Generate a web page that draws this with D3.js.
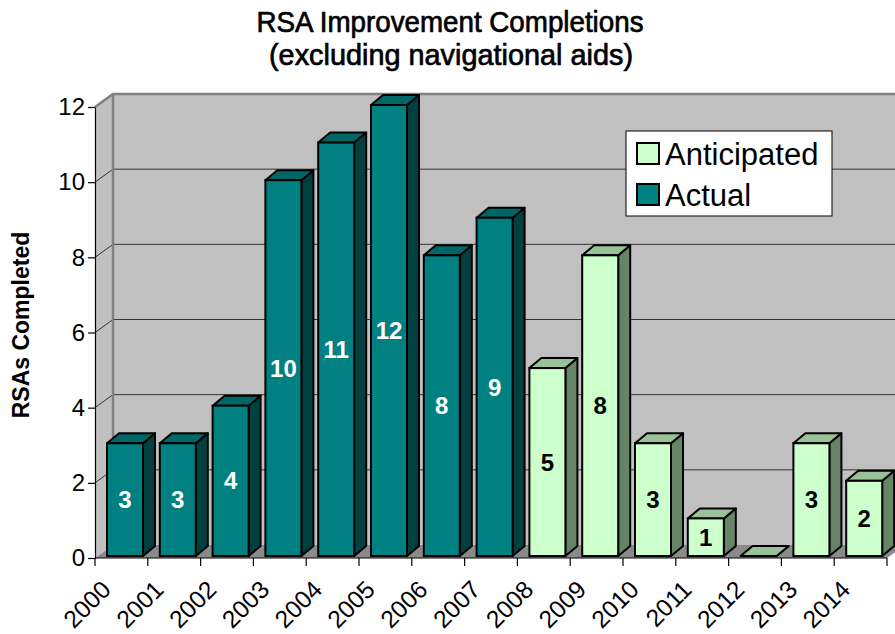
<!DOCTYPE html>
<html>
<head>
<meta charset="utf-8">
<script src="https://cdn.jsdelivr.net/npm/d3@7"></script>
<style>
  body { margin: 0; background: #fff; }
  text { font-family: Arial, "Liberation Sans", sans-serif; }
</style>
</head>
<body>
<div id="chart"></div>
<script>
// Data
var years = ["2000","2001","2002","2003","2004","2005","2006","2007",
             "2008","2009","2010","2011","2012","2013","2014"];
var actualYears = ["2000","2001","2002","2003","2004","2005","2006","2007"];
var actualValues = [3, 3, 4, 10, 11, 12, 8, 9];
var anticipatedYears = ["2008","2009","2010","2011","2012","2013","2014"];
var anticipatedValues = [5, 8, 3, 1, 0, 3, 2];
var yTicks = [0, 2, 4, 6, 8, 10, 12];

var width = 895, height = 634;

// Scales
var x = d3.scaleBand().domain(years).range([95, 887]).padding(0);
var y = d3.scaleLinear().domain([0, 12]).range([558, 107]);

// 3D depth of the plot (back wall offset) and of the bars
var wallDx = 18, wallDy = -13;
var barDx = 12, barDy = -10;
var barOffX = 12, barOffY = -2, barW = 36;

var styles = {
  actual:      { front: "#008080", side: "#004040", top: "#006666", label: "#fff" },
  anticipated: { front: "#ccffcc", side: "#668566", top: "#99c299", label: "#000" }
};

var bars = actualYears.map(function(d, i) { return { year: d, value: actualValues[i], type: "actual" }; })
  .concat(anticipatedYears.map(function(d, i) { return { year: d, value: anticipatedValues[i], type: "anticipated" }; }));

var svg = d3.select("#chart").append("svg")
    .attr("width", width)
    .attr("height", height);

// Title (squeezed to the reference width, slightly heavier than regular)
var titleLines = [
  { text: "RSA Improvement Completions", x: 450, y: 32, len: 387 },
  { text: "(excluding navigational aids)", x: 451, y: 65, len: 364 }
];
svg.selectAll("text.title").data(titleLines).enter().append("text")
    .attr("class", "title")
    .attr("x", function(d) { return d.x; })
    .attr("y", function(d) { return d.y; })
    .attr("text-anchor", "middle")
    .attr("textLength", function(d) { return d.len; })
    .attr("lengthAdjust", "spacingAndGlyphs")
    .style("font-size", "29.5px")
    .style("stroke", "#000")
    .style("stroke-width", 0.7)
    .text(function(d) { return d.text; });

// Y axis title
svg.append("text")
    .attr("transform", "translate(29,325) rotate(-90)")
    .attr("text-anchor", "middle")
    .style("font-size", "23px")
    .style("font-weight", "bold")
    .text("RSAs Completed");

var x0 = x.range()[0], x1 = x.range()[1];
var plot = svg.append("g");

// Back wall
plot.append("rect")
    .attr("x", x0 + wallDx).attr("y", y(12) + wallDy)
    .attr("width", width - x0).attr("height", y(0) - y(12))
    .attr("fill", "#c0c0c0");

// Side wall
plot.append("path")
    .attr("d", "M" + x0 + "," + y(12) + "L" + (x0 + wallDx) + "," + (y(12) + wallDy) +
               "L" + (x0 + wallDx) + "," + (y(0) + wallDy) + "L" + x0 + "," + y(0) + "Z")
    .attr("fill", "#c0c0c0");

// Floor
plot.append("path")
    .attr("d", "M" + x0 + "," + y(0) + "L" + (x0 + wallDx) + "," + (y(0) + wallDy) +
               "L" + (x1 + wallDx) + "," + (y(0) + wallDy) + "L" + x1 + "," + y(0) + "Z")
    .attr("fill", "#8a8a8a");

// Gridlines
var grid = plot.append("g");
grid.selectAll("line.h").data(yTicks.filter(function(d) { return d > 0 && d < 12; }))
  .enter().append("line")
    .attr("x1", x0 + wallDx).attr("x2", width)
    .attr("y1", function(d) { return y(d) + wallDy; })
    .attr("y2", function(d) { return y(d) + wallDy; })
    .attr("stroke", "#333").attr("stroke-width", 1);
grid.selectAll("line.d").data(yTicks.filter(function(d) { return d > 0; }))
  .enter().append("line")
    .attr("x1", x0).attr("x2", x0 + wallDx)
    .attr("y1", function(d) { return y(d); })
    .attr("y2", function(d) { return y(d) + wallDy; })
    .attr("stroke", "#333").attr("stroke-width", 1);

// Wall edges
plot.append("path")
    .attr("d", "M" + x0 + "," + y(12) + "L" + (x0 + wallDx) + "," + (y(12) + wallDy) + "L" + width + "," + (y(12) + wallDy))
    .attr("fill", "none").attr("stroke", "#808080").attr("stroke-width", 2.5);
plot.append("line")
    .attr("x1", x0 + wallDx).attr("x2", x0 + wallDx)
    .attr("y1", y(12) + wallDy).attr("y2", y(0) + wallDy)
    .attr("stroke", "#808080").attr("stroke-width", 2.5);

// Bars
var bar = plot.selectAll("g.bar").data(bars).enter().append("g").attr("class", "bar");

function fx(d) { return x(d.year) + barOffX; }
function fy(d) { return y(d.value) + barOffY; }
var base = y(0) + barOffY;

bar.append("path")
    .attr("d", function(d) {
      var l = fx(d) + barW, t = fy(d);
      return "M" + l + "," + t + "L" + (l + barDx) + "," + (t + barDy) +
             "L" + (l + barDx) + "," + (base + barDy) + "L" + l + "," + base + "Z";
    })
    .attr("fill", function(d) { return styles[d.type].side; })
    .attr("stroke", "#000").attr("stroke-width", 2).attr("stroke-linejoin", "round");

bar.append("path")
    .attr("d", function(d) {
      var l = fx(d), t = fy(d);
      return "M" + l + "," + t + "L" + (l + barDx) + "," + (t + barDy) +
             "L" + (l + barW + barDx) + "," + (t + barDy) + "L" + (l + barW) + "," + t + "Z";
    })
    .attr("fill", function(d) { return styles[d.type].top; })
    .attr("stroke", "#000").attr("stroke-width", 2).attr("stroke-linejoin", "round");

bar.filter(function(d) { return d.value > 0; }).append("rect")
    .attr("x", fx).attr("y", fy)
    .attr("width", barW)
    .attr("height", function(d) { return base - fy(d); })
    .attr("fill", function(d) { return styles[d.type].front; })
    .attr("stroke", "#000").attr("stroke-width", 2);

// Data labels
bar.filter(function(d) { return d.value > 0; }).append("text")
    .attr("x", function(d) { return fx(d) + barW / 2; })
    .attr("y", function(d) { return (fy(d) + base) / 2; })
    .attr("dy", "0.36em")
    .attr("text-anchor", "middle")
    .style("font-size", "24px")
    .style("font-weight", "bold")
    .style("fill", function(d) { return styles[d.type].label; })
    .text(function(d) { return d.value; });

// Y axis
var yAxis = svg.append("g")
    .attr("transform", "translate(" + x0 + ",0)")
    .call(d3.axisLeft(y).tickValues(yTicks).tickSize(7).tickSizeOuter(0).tickPadding(3));
yAxis.select(".domain").attr("stroke", "#000").attr("stroke-width", 1.2);
yAxis.selectAll(".tick line").attr("stroke", "#000").attr("stroke-width", 1.2);
yAxis.selectAll(".tick text")
    .style("font-family", "Arial, 'Liberation Sans', sans-serif")
    .style("font-size", "24px").attr("fill", "#000");

// X axis
var xAxis = svg.append("g")
    .attr("transform", "translate(0," + y(0) + ")");
xAxis.append("line")
    .attr("x1", x0).attr("x2", x1)
    .attr("stroke", "#000").attr("stroke-width", 1.2);
xAxis.selectAll("line.tick").data(years.concat(["end"]))
  .enter().append("line")
    .attr("x1", function(d, i) { return x0 + i * x.step(); })
    .attr("x2", function(d, i) { return x0 + i * x.step(); })
    .attr("y1", 0).attr("y2", 8)
    .attr("stroke", "#000").attr("stroke-width", 1.2);
xAxis.selectAll("text").data(years)
  .enter().append("text")
    .attr("transform", function(d) {
      return "translate(" + (x(d) + x.bandwidth() / 2 - 9) + ",33) rotate(-45)";
    })
    .attr("text-anchor", "end")
    .style("font-size", "24.5px")
    .text(function(d) { return d; });

// Legend
var legend = svg.append("g").attr("transform", "translate(626,131)");
legend.append("rect")
    .attr("width", 206).attr("height", 85)
    .attr("fill", "#fff").attr("stroke", "#000").attr("stroke-width", 1);
var legendItems = [
  { name: "Anticipated", type: "anticipated" },
  { name: "Actual", type: "actual" }
];
var li = legend.selectAll("g.item").data(legendItems).enter().append("g")
    .attr("transform", function(d, i) { return "translate(11," + (12 + i * 41) + ")"; });
li.append("rect")
    .attr("width", 22).attr("height", 21)
    .attr("fill", function(d) { return styles[d.type].front; })
    .attr("stroke", "#000").attr("stroke-width", 2);
li.append("text")
    .attr("x", 28).attr("y", 22)
    .style("font-size", "31px")
    .text(function(d) { return d.name; });
</script>
</body>
</html>
